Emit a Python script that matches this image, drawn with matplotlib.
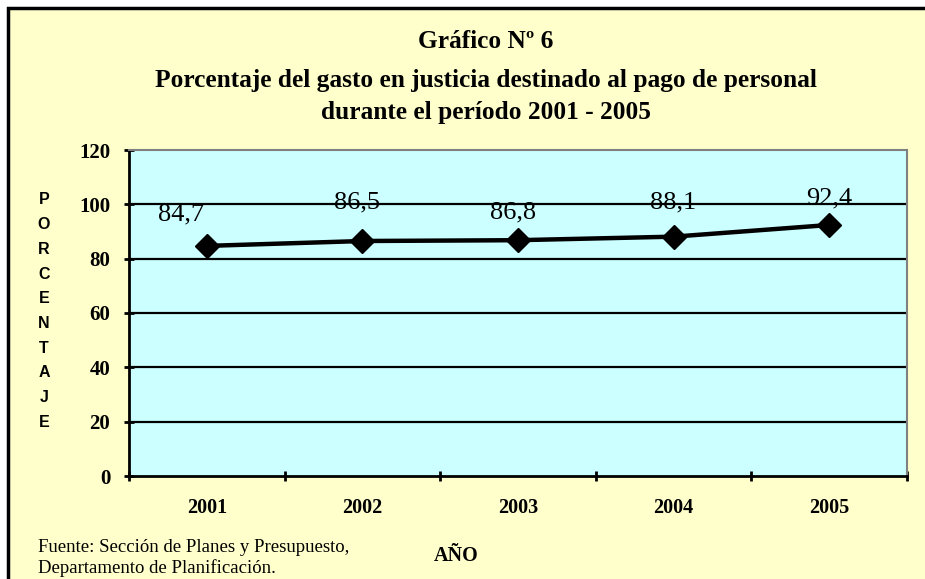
import matplotlib.pyplot as plt
from matplotlib.patches import Rectangle

years = ['2001', '2002', '2003', '2004', '2005']
porcentaje = [84.7, 86.5, 86.8, 88.1, 92.4]
etiquetas = ['84,7', '86,5', '86,8', '88,1', '92,4']
y_ticks = [0, 20, 40, 60, 80, 100, 120]

# desplazamiento (px) de cada etiqueta respecto a su punto
label_dx = [-26, -5, -5, 0, 0]
label_dy = [31, 39, 28, 34, 27]

serif = 'Liberation Serif'
sans = 'Liberation Sans'

fig = plt.figure(figsize=(9.25, 5.79), dpi=100)
fig.patch.set_facecolor('white')

# marco amarillo del grafico
frame = Rectangle((8 / 925, -0.02), 1.0, 1 - 8 / 579 + 0.02, transform=fig.transFigure,
                  facecolor='#FFFFCC', edgecolor='black', linewidth=2.5, zorder=-10)
fig.patches.append(frame)

ax = fig.add_axes([129 / 925, 1 - 476 / 579, 778 / 925, 326 / 579])
ax.set_zorder(5)
ax.set_facecolor('#CCFFFF')

x = list(range(len(years)))
ax.plot(x, porcentaje, color='black', linewidth=3.2, marker='D', markersize=12, zorder=5)

for i, (v, t) in enumerate(zip(porcentaje, etiquetas)):
    ax.annotate(t, (i, v), xytext=(label_dx[i], label_dy[i]), textcoords='offset pixels',
                ha='center', va='center', fontsize=19, family=serif, zorder=6)

ax.set_xlim(-0.5, 4.5)
ax.set_ylim(0, 120)
ax.set_yticks(y_ticks)
ax.set_yticklabels([str(v) for v in y_ticks], family=serif, fontweight='bold', fontsize=15)
ax.set_xticks([i - 0.5 for i in range(len(years) + 1)])
ax.set_xticklabels([])
ax.set_xticks(x, minor=True)
ax.set_xticklabels(years, minor=True, family=serif, fontweight='bold', fontsize=14.5)
ax.tick_params(axis='x', which='minor', length=0, pad=16)
ax.tick_params(axis='x', which='major', length=7, width=2, direction='inout')
ax.tick_params(axis='y', length=7, width=2, direction='inout', pad=10)

for v in y_ticks[1:-1]:
    ax.axhline(v, color='black', linewidth=1.6, zorder=1)

ax.spines['left'].set_linewidth(2)
ax.spines['bottom'].set_linewidth(2)
ax.spines['top'].set_color('#808080')
ax.spines['right'].set_color('#808080')
ax.spines['top'].set_linewidth(1.5)
ax.spines['right'].set_linewidth(1.5)

fig.text(486 / 925, 1 - 42 / 579, 'Gráfico Nº 6', ha='center', va='center',
         family=serif, fontweight='bold', fontsize=18.3)
fig.text(486 / 925, 1 - 80 / 579, 'Porcentaje del gasto en justicia destinado al pago de personal',
         ha='center', va='center', family=serif, fontweight='bold', fontsize=18.3)
fig.text(486 / 925, 1 - 112 / 579, 'durante el período 2001 - 2005', ha='center', va='center',
         family=serif, fontweight='bold', fontsize=18.3)

# etiqueta vertical del eje y
for k, ch in enumerate('PORCENTAJE'):
    fig.text(44 / 925, 1 - (200 + k * 24.7) / 579, ch, ha='center', va='center',
             family=sans, fontweight='bold', fontsize=11.5)

fig.text(456 / 925, 1 - 556 / 579, 'AÑO', ha='center', va='center',
         family=serif, fontweight='bold', fontsize=14.5)
fig.text(38 / 925, 1 - 548 / 579, 'Fuente: Sección de Planes y Presupuesto,', ha='left', va='center',
         family=serif, fontsize=13.5)
fig.text(38 / 925, 1 - 568 / 579, 'Departamento de Planificación.', ha='left', va='center',
         family=serif, fontsize=13.5)

fig.savefig('out.png', dpi=100, facecolor=fig.get_facecolor())
